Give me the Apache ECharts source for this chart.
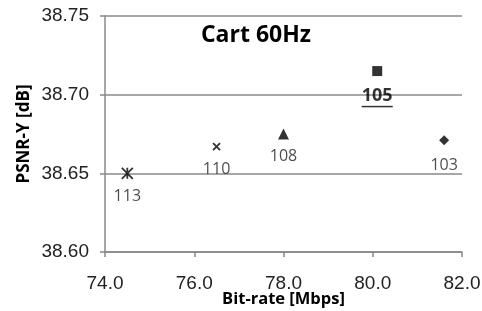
<!DOCTYPE html>
<html><head><meta charset="utf-8">
<script src="https://cdn.jsdelivr.net/npm/echarts@6/dist/echarts.min.js"></script>
<style>html,body{margin:0;padding:0;background:#fff}#c{width:482px;height:311px}</style>
</head><body><div id="c"></div>
<script>
const labels = ['113', '110', '108', '105', '103'];
const bitrate = [74.5, 76.5, 78.0, 80.1, 81.6];
const psnr = [38.650, 38.667, 38.675, 38.715, 38.671];
const xTicks = [74, 76, 78, 80, 82];
const yTicks = [38.60, 38.65, 38.70, 38.75];

const star = 'path://M0,0L10,10M10,0L0,10M5,0L5,10';
const cross = 'path://M0,0L10,10M10,0L0,10';
const symbols = [star, cross, 'triangle', 'rect', 'diamond'];
const sizes = [11, 7, 11, 10, 10];
const lblDist = [7, 9, 9, 13, 12];

const chart = echarts.init(document.getElementById('c'));
const data = labels.map((l, i) => {
  const isLine = i < 2;
  const item = {
    value: [bitrate[i], psnr[i]],
    name: l,
    symbol: symbols[i],
    symbolSize: sizes[i],
    itemStyle: isLine ? {color: 'none', borderColor: '#000', borderWidth: 1.8} : {color: '#000'},
    label: {distance: lblDist[i]}
  };
  if (i === 3) {
    item.label = {
      distance: 10,
      formatter: '{b|105}\n{u|}',
      rich: {
        b: {fontSize: 18, fontWeight: 'bold', color: '#000', fontFamily: 'Open Sans', lineHeight: 19},
        u: {width: 31, height: 1.5, backgroundColor: '#000', lineHeight: 3}
      }
    };
  }
  return item;
});

chart.setOption({
  animation: false,
  title: {
    text: 'Cart 60Hz', left: 251, top: 19, textAlign: 'center',
    textStyle: {fontFamily: 'Open Sans', fontWeight: 'bold', fontSize: 23, color: '#000'}
  },
  grid: {left: 105, right: 20, top: 16, bottom: 59, outerBoundsMode: 'none', containLabel: false},
  xAxis: {
    type: 'value', min: xTicks[0], max: xTicks[xTicks.length - 1], interval: 2,
    name: 'Bit-rate [Mbps]', nameLocation: 'middle', nameGap: 39, nameMoveOverlap: false,
    nameTextStyle: {fontFamily: 'Open Sans', fontWeight: 'bold', fontSize: 16.5, color: '#000'},
    axisLine: {show: true, lineStyle: {color: '#888', width: 1.5}},
    axisTick: {show: true, length: 5, lineStyle: {color: '#888', width: 1.5}},
    axisLabel: {fontFamily: 'Liberation Sans', fontSize: 19, color: '#222', margin: 22, formatter: v => v.toFixed(1)},
    splitLine: {show: false}
  },
  yAxis: {
    type: 'value', min: yTicks[0], max: yTicks[yTicks.length - 1], interval: 0.05,
    name: 'PSNR-Y [dB]', nameLocation: 'middle', nameGap: 72, nameRotate: 90, nameMoveOverlap: false,
    nameTextStyle: {fontFamily: 'Open Sans', fontWeight: 'bold', fontSize: 17, color: '#000'},
    axisLine: {show: true, lineStyle: {color: '#888', width: 1.5}},
    axisTick: {show: true, length: 5, lineStyle: {color: '#888', width: 1.5}},
    axisLabel: {fontFamily: 'Liberation Sans', fontSize: 19, color: '#222', margin: 16, formatter: v => v.toFixed(2)},
    splitLine: {show: true, lineStyle: {color: '#8a8a8a', width: 1.5}}
  },
  series: [{
    type: 'scatter',
    data: data,
    label: {
      show: true, position: 'bottom', formatter: '{b}',
      fontFamily: 'Open Sans', fontSize: 16, color: '#222'
    }
  }]
});
</script></body></html>
